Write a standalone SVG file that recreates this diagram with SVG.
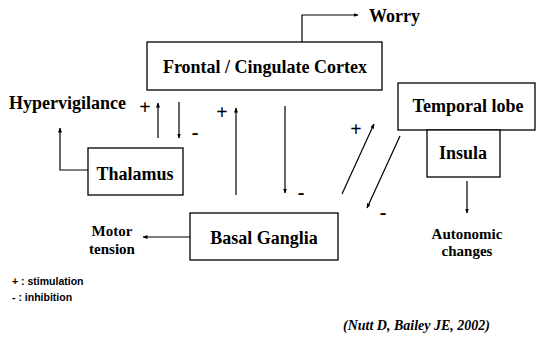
<svg xmlns="http://www.w3.org/2000/svg" width="536" height="341" viewBox="0 0 536 341">
<defs>
<marker id="ah" viewBox="0 0 10 10" refX="9" refY="5" markerWidth="5" markerHeight="5" orient="auto" markerUnits="userSpaceOnUse"><path d="M0,1 L10,5 L0,9 z" fill="#000"/></marker>
<style>
.box{fill:#fff;stroke:#000;stroke-width:1.3}
.t{font-family:"Liberation Serif","Times New Roman",serif;font-weight:bold;fill:#000}
.big{font-size:18px}
.mid{font-size:15px}
.pm{font-size:20px}
.sm{font-family:"Liberation Sans",Arial,sans-serif;font-weight:bold;font-size:10.5px;fill:#000}
.ln{fill:none;stroke:#000;stroke-width:1.2;marker-end:url(#ah)}
</style>
</defs>
<rect width="536" height="341" fill="#fff"/>
<g id="connectors">
<path class="ln" d="M302,42 V15 H358"/>
<path class="ln" d="M88,170 H60 V128"/>
<path class="ln" d="M158,138 V103"/>
<path class="ln" d="M179,102 V138"/>
<path class="ln" d="M236,195 V108"/>
<path class="ln" d="M285,106 V193"/>
<path class="ln" d="M342,194 L374,124"/>
<path class="ln" d="M400,136 L367,208"/>
<path class="ln" d="M190,237 H143"/>
<path class="ln" d="M467,181 V213"/>
<text class="t pm" x="145" y="114" text-anchor="middle">+</text>
<text class="t pm" x="195" y="139" text-anchor="middle">-</text>
<text class="t pm" x="222" y="119" text-anchor="middle">+</text>
<text class="t pm" x="301" y="199" text-anchor="middle">-</text>
<text class="t pm" x="356" y="136" text-anchor="middle">+</text>
<text class="t pm" x="383" y="219" text-anchor="middle">-</text>
</g>
<g id="frontal">
<rect class="box" x="147" y="42" width="235" height="48"/>
<text class="t big" x="265" y="73" text-anchor="middle">Frontal / Cingulate Cortex</text>
</g>
<g id="worry"><text class="t big" x="369" y="22">Worry</text></g>
<g id="temporal">
<rect class="box" x="398" y="83" width="137" height="47"/>
<text class="t big" x="468" y="112" text-anchor="middle">Temporal lobe</text>
</g>
<g id="insula">
<rect class="box" x="427" y="130" width="73" height="47"/>
<text class="t big" x="463" y="159" text-anchor="middle">Insula</text>
</g>
<g id="thalamus">
<rect class="box" x="88" y="148" width="95" height="47"/>
<text class="t big" x="135" y="180" text-anchor="middle">Thalamus</text>
</g>
<g id="hypervigilance"><text class="t big" x="9" y="109">Hypervigilance</text></g>
<g id="basal">
<rect class="box" x="190" y="213" width="148" height="47"/>
<text class="t big" x="264" y="244" text-anchor="middle">Basal Ganglia</text>
</g>
<g id="motor">
<text class="t mid" x="112" y="236" text-anchor="middle">Motor</text>
<text class="t mid" x="112" y="254" text-anchor="middle">tension</text>
</g>
<g id="autonomic">
<text class="t mid" x="467" y="239" text-anchor="middle">Autonomic</text>
<text class="t mid" x="467" y="256" text-anchor="middle">changes</text>
</g>
<g id="legend">
<text class="sm" x="12" y="285">+ : stimulation</text>
<text class="sm" x="12" y="301">-  : inhibition</text>
</g>
<g id="citation"><text class="t" font-size="14" font-style="italic" x="343" y="330">(Nutt D, Bailey JE, 2002)</text></g>
</svg>
